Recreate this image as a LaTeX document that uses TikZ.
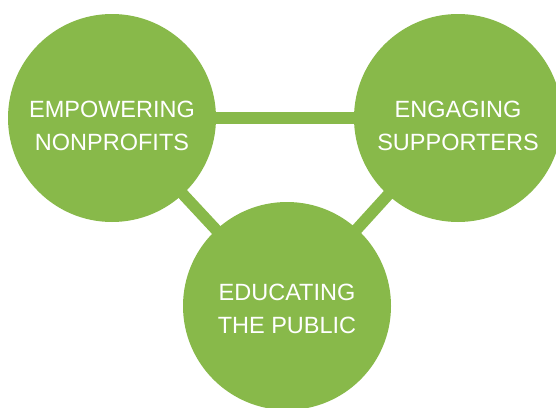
\documentclass[tikz,border=0pt]{standalone}
\usepackage{fontspec}
\setmainfont{Liberation Sans}
\usetikzlibrary{backgrounds}
\definecolor{leaf}{RGB}{136,185,74}
\tikzset{
  blob/.style={circle, fill=leaf, draw=none, minimum size=208pt, inner sep=0pt},
  lbl/.style={text=white, align=center, inner sep=0pt, font=\fontsize{23.5}{33.5}\selectfont},
  bar/.style={draw=leaf, line width=11.5pt}
}
\begin{document}
\begin{tikzpicture}[x=1pt,y=-1pt]
\useasboundingbox (0,0) rectangle (556,407);
\node[blob] (emp) at (112,118) {};
\node[blob] (eng) at (458,118) {};
\node[blob] (edu) at (287,306) {};
\node[lbl] (empt) at ([yshift=-8pt]emp.center) {EMPOWERING\\NONPROFITS};
\node[lbl] (engt) at ([yshift=-8pt]eng.center) {ENGAGING\\SUPPORTERS};
\node[lbl] (edut) at ([yshift=-3pt]edu.center) {EDUCATING\\THE PUBLIC};
\begin{scope}[on background layer]
\draw[bar] (emp.center) -- (eng.center);
\draw[bar] (emp.center) -- (edu.center);
\draw[bar] (eng.center) -- (edu.center);
\end{scope}
\end{tikzpicture}
\end{document}
